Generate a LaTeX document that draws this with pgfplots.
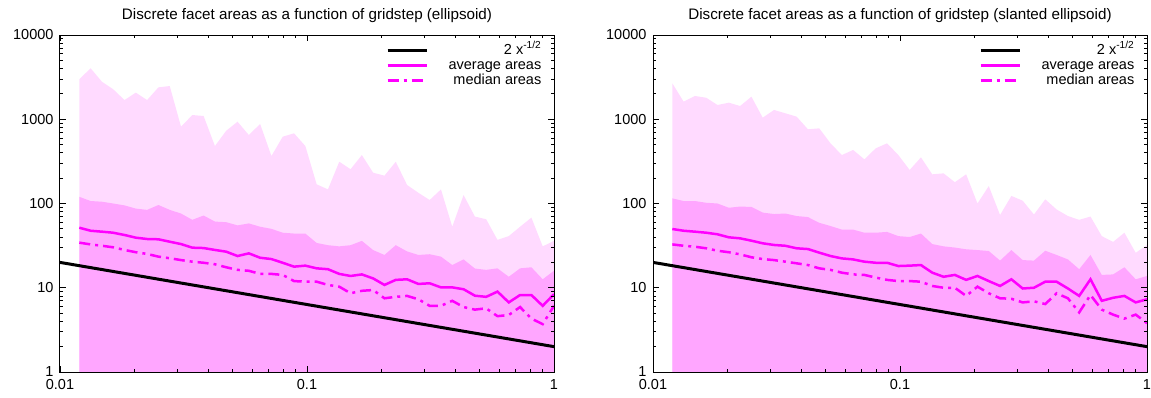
\documentclass[border=0pt]{standalone}
\usepackage{fontspec}
\setmainfont{Liberation Sans}
\usepackage{pgfplots}
\usepackage{pgfplotstable}
\pgfplotsset{compat=1.18}
\definecolor{lightpink}{HTML}{FFDAFF}
\definecolor{midpink}{HTML}{FFA6FF}
\definecolor{gpmag}{HTML}{FF00FF}

\pgfplotstableread{
x        max   up    avg   med
0.011973 2980  120   51.6  34.3
0.013303 4030  107   47.5  32.7
0.014781 2790  105   46.3  31.5
0.016423 2270  100   45    30.2
0.018248 1690  95    42.3  28.1
0.020276 2070  87    39.3  26.4
0.022528 1690  84    37.9  25.2
0.025032 2390  96    37.6  23.4
0.027813 2480  84    35.2  22.4
0.030903 816   76    33    21.3
0.034337 1122  64    29.9  20.4
0.038152 1093  72    29.6  19.8
0.042391 481   61    28.1  19
0.047101 731   60    26.8  17.5
0.052335 935   55    23.8  16.3
0.058150 650   58    25.6  15.9
0.064611 879   53    22.7  14.6
0.071790 366   50    21.9  14.6
0.079766 621   45    19.8  14.2
0.088629 681   44    17.8  12
0.098477 481   44    18.3  11.8
0.109419 169   34    17    11.8
0.121577 147   32    16.6  10.8
0.135085 313   31    14.6  10.3
0.150095 255   32    13.8  8.6
0.166772 376   36    14.4  9.2
0.185302 232   28    12.9  9.4
0.205891 214   24.5  10.8  7.5
0.228768 313   32    12.4  7.8
0.254187 166   27    12.6  8.0
0.282430 134   24.5  11.1  7.3
0.313811 110   25    11.3  6.1
0.348678 147   23.4  10.1  6.1
0.387420 53    18.6  10.1  7.0
0.430467 126   21.7  9.6   5.9
0.478297 70    16.9  8.05  5.5
0.531441 65    16.3  7.8   5.7
0.590490 37    17    9.0   4.6
0.656100 41    13.5  6.7   4.75
0.729000 53    17    8.2   5.9
0.810000 68    17.5  8.2   4.3
0.900000 31    12.6  6.1   3.7
1.000000 36    15.9  8.4   6.1
}\tabA

\pgfplotstableread{
x        max   up    avg   med
0.011973 2670  115   49.8  32.7
0.013303 1620  107   47.5  31.5
0.014781 1890  107   46.3  30.7
0.016423 1800  102   45    29.4
0.018248 1476  100   43.1  27.5
0.020276 1573  89    39.7  26.4
0.022528 1436  92    38.6  24.9
0.025032 1853  91    36.2  23
0.027813 1044  78    33.7  21.9
0.030903 1289  75    32.2  21.3
0.034337 1177  76    31.5  20.4
0.038152 1074  71    29.4  19.5
0.042391 760   69    28.8  18.6
0.047101 780   59    26.1  17
0.052335 518   54    23.8  16.3
0.058150 376   49    22.3  15.1
0.064611 432   49    21.7  14.4
0.071790 334   45    20.4  14.2
0.079766 452   45    19.8  13.2
0.088629 518   46    19.8  12.4
0.098477 376   41    18.1  12
0.109419 250   40    18.3  12
0.121577 353   44    18.6  11.8
0.135085 222   33    15.1  10.5
0.150095 228   31    13.5  10
0.166772 179   30    14.2  10
0.185302 222   28.6  12.4  8.0
0.205891 100   28    13.8  10.3
0.228768 161   27.3  12    8.6
0.254187 73    21    10.5  7.5
0.282430 123   28    12.6  7.4
0.313811 108   21.3  9.8   6.7
0.348678 74    21    10    6.9
0.387420 112   27.5  11.8  6.4
0.430467 85    24.5  11.8  8.6
0.478297 71    21.7  9.8   7.5
0.531441 64    16.6  8.0   5.1
0.590490 70    24.5  12.6  8.2
0.656100 41    14.2  7.0   5.5
0.729000 35    14.4  7.6   4.8
0.810000 45    17.5  8.0   4.3
0.900000 26    12.6  6.7   4.8
1.000000 32    13.8  7.3   3.8
}\tabB

\pgfplotstableread{
x    y
0.01 20
1    2
}\tabRef

\pgfplotsset{gp/.style={
  scale only axis, width=494bp, height=337bp,
  xmin=0.01, xmax=1, ymin=1, ymax=10000,
  xtick={0.01,0.1,1}, xticklabels={0.01,0.1,1},
  ytick={1,10,100,1000,10000}, yticklabels={1,10,100,1000,10000},
  minor xtick={0.02,0.03,0.04,0.05,0.06,0.07,0.08,0.09,0.2,0.3,0.4,0.5,0.6,0.7,0.8,0.9},
  minor ytick={2,3,4,5,6,7,8,9,20,30,40,50,60,70,80,90,200,300,400,500,600,700,800,900,2000,3000,4000,5000,6000,7000,8000,9000},
  tick align=inside,
  major tick length=6.5bp, minor tick length=3.5bp,
  tick style={black, line width=0.8bp},
  axis line style={black, line width=1bp},
  tick label style={font=\fontsize{14.5bp}{17bp}\selectfont},
  xticklabel style={yshift=-4bp},
  yticklabel style={xshift=-3bp},
  title style={font=\fontsize{15.2bp}{18bp}\selectfont, yshift=3bp},
  legend style={draw=none, fill=none, at={(1,1)}, anchor=north east,
    xshift=-9bp, yshift=-6bp, font=\fontsize{14.5bp}{17bp}\selectfont,
    nodes={inner sep=0.5bp, text height=10.5bp, text depth=3.5bp},
    column sep=20bp},
  legend cell align=right,
  axis on top,
}}

\begin{document}
\begin{tikzpicture}
\path[use as bounding box] (-60bp,-26bp) rectangle (1091bp,372bp);
\begin{loglogaxis}[gp, title={Discrete facet areas as a function of gridstep (ellipsoid)},
  legend image code/.code={\draw[#1] (0bp,0bp) -- (39bp,0bp);}]
\addplot[fill=lightpink, draw=none, forget plot] table[x=x, y=max] {\tabA} \closedcycle;
\addplot[fill=midpink, draw=none, forget plot] table[x=x, y=up] {\tabA} \closedcycle;
\addplot[black, line width=3bp] table[x=x, y=y] {\tabRef};
\addlegendentry{2 x\textsuperscript{-1/2}}
\addplot[gpmag, line width=2.5bp] table[x=x, y=avg] {\tabA};
\addlegendentry{average areas}
\addplot[gpmag, line width=2.5bp, dash pattern=on 11bp off 5bp on 3bp off 5bp] table[x=x, y=med] {\tabA};
\addlegendentry{median areas}
\end{loglogaxis}
\begin{loglogaxis}[gp, at={(593bp,0bp)}, title={Discrete facet areas as a function of gridstep (slanted ellipsoid)},
  legend image code/.code={\draw[#1] (0bp,0bp) -- (39bp,0bp);}]
\addplot[fill=lightpink, draw=none, forget plot] table[x=x, y=max] {\tabB} \closedcycle;
\addplot[fill=midpink, draw=none, forget plot] table[x=x, y=up] {\tabB} \closedcycle;
\addplot[black, line width=3bp] table[x=x, y=y] {\tabRef};
\addlegendentry{2 x\textsuperscript{-1/2}}
\addplot[gpmag, line width=2.5bp] table[x=x, y=avg] {\tabB};
\addlegendentry{average areas}
\addplot[gpmag, line width=2.5bp, dash pattern=on 11bp off 5bp on 3bp off 5bp] table[x=x, y=med] {\tabB};
\addlegendentry{median areas}
\end{loglogaxis}
\end{tikzpicture}
\end{document}
